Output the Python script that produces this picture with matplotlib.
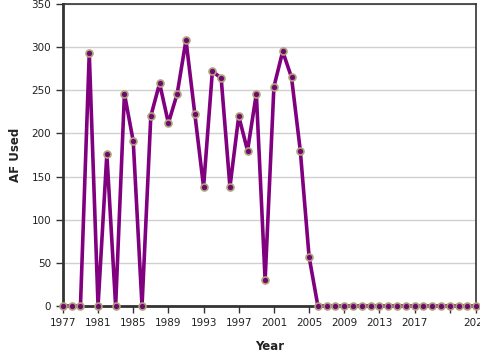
import matplotlib
matplotlib.use('Agg')
import matplotlib.pyplot as plt

years = list(range(1977, 2025))
af_used = [0, 0, 0, 293, 0, 176, 0, 246, 191, 0,
           220, 258, 212, 246, 308, 223, 138, 272, 264, 138,
           220, 180, 246, 30, 254, 295, 265, 180, 57] + [0] * 19

tick_years = list(range(1977, 2022, 4)) + [2024]
tick_labels = [str(y) if y != 2021 else '' for y in tick_years]

fig = plt.figure(figsize=(4.8, 3.6), dpi=100)
ax = fig.add_axes([0.131, 0.15, 0.861, 0.839])

ax.plot(years, af_used, color='#800080', lw=2.6, zorder=3,
        marker='o', markersize=5, markerfacecolor='#6e0a6e',
        markeredgecolor='#b0a37c', markeredgewidth=1.2, clip_on=False)

ax.set_xlim(1977, 2024)
ax.set_ylim(0, 350)
ax.set_yticks(range(0, 351, 50))
ax.set_xticks(tick_years)
ax.set_xticklabels(tick_labels)
ax.grid(axis='y', color='#d0d0d0', lw=1)
ax.set_axisbelow(True)

for s in ['top', 'right']:
    ax.spines[s].set_linewidth(1.2)
    ax.spines[s].set_color('#333333')
for s in ['left', 'bottom']:
    ax.spines[s].set_linewidth(2)
    ax.spines[s].set_color('#333333')

ax.tick_params(labelsize=7.5, length=5, width=1, colors='#333333', labelcolor='#222222')
ax.set_xlabel('Year', fontsize=8.5, fontweight='bold', color='#222222', labelpad=9)
ax.set_ylabel('AF Used', fontsize=8.5, fontweight='bold', color='#222222', labelpad=7)

fig.savefig('out.png', dpi=100)
